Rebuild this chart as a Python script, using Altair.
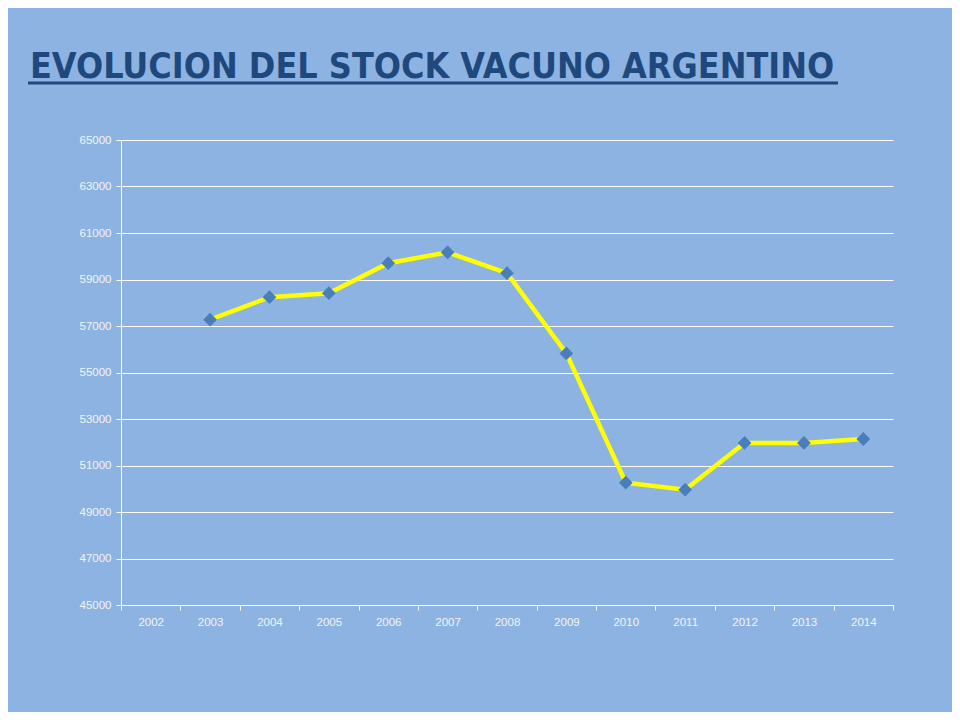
import altair as alt
import pandas as pd

title_text = "EVOLUCION DEL STOCK VACUNO ARGENTINO"
categories = [str(y) for y in range(2002, 2015)]
years = ["2003", "2004", "2005", "2006", "2007", "2008", "2009", "2010", "2011", "2012", "2013", "2014"]
stock = [57270, 58240, 58410, 59700, 60170, 59270, 55820, 50260, 49960, 51970, 51970, 52140]
y_ticks = list(range(45000, 65001, 2000))

df = pd.DataFrame({"year": years, "stock": stock})

BG = "#8DB3E2"
W, H = 772, 465

x = alt.X("year:O", sort=categories,
          scale=alt.Scale(type="band", domain=categories, paddingInner=0, paddingOuter=0),
          axis=alt.Axis(title=None, labelAngle=0, tickBand="extent", domainColor="white",
                        tickColor="white", tickSize=5, labelColor="#F4F4F4", labelFontSize=11.5,
                        labelFont="Liberation Sans", labelPadding=6, grid=False))
y = alt.Y("stock:Q", scale=alt.Scale(domain=[45000, 65000], nice=False, zero=False),
          axis=alt.Axis(title=None, values=y_ticks, format="d", domainColor="white",
                        tickColor="white", tickSize=5, gridColor="white", gridWidth=1,
                        labelColor="#F4F4F4", labelFontSize=11.5, labelFont="Liberation Sans",
                        labelPadding=5))

base = alt.Chart(df)
line = base.mark_line(color="#FFFF00", strokeWidth=4.5).encode(x=x, y=y)
pts = base.mark_point(shape="diamond", filled=True, size=190, color="#4A7EBB", opacity=1).encode(x=x, y=y)

deco = alt.Chart(alt.Data(values=[{}]))
title = deco.mark_text(align="left", baseline="alphabetic", font="DejaVu Sans Condensed",
                       fontWeight="bold", fontSize=35.6, color="#1F497D").encode(
    x=alt.value(-91), y=alt.value(-62), text=alt.value(title_text))
underline = deco.mark_rule(color="#1F497D", strokeWidth=3).encode(
    x=alt.value(-93), x2=alt.value(717), y=alt.value(-57))

chart = alt.layer(line, pts, title, underline).properties(
    width=W, height=H, background=BG,
    padding={"left": 113, "top": 132, "right": 59, "bottom": 107},
    autosize=alt.AutoSizeParams(type="none"),
).configure_view(stroke=None)

chart.save("out.html", embed_options={"renderer": "svg", "actions": False})
